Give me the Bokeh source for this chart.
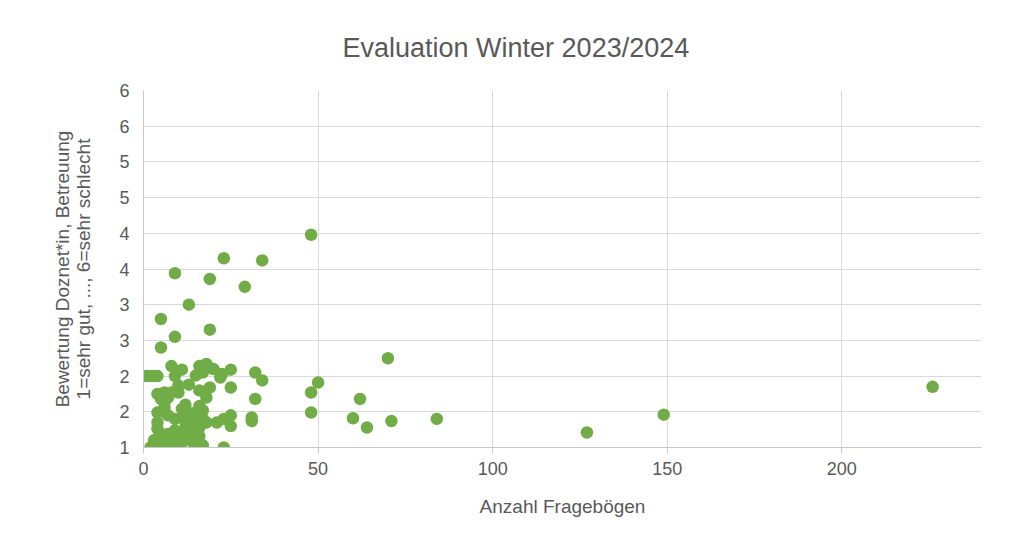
from bokeh.plotting import figure
from bokeh.models import Range1d, FixedTicker, Title
from bokeh.embed import file_html
from bokeh.resources import INLINE

# ---- data ----
anzahl = [48, 23, 34, 9, 19, 29, 13, 5, 19, 9, 5, 70, 50, 48, 48, 62, 60, 64, 71, 84,
          127, 149, 226, 23, 32, 34, 32, 31, 31, 25, 25, 25, 25, 23, 21, 22.5, 22, 20, 18, 16,
          15, 17, 11, 8, 9, 1, 2, 3, 4, 13, 10, 16, 19, 18, 4, 6, 8, 10, 6, 6,
          4, 11, 17, 15, 13, 11.5, 4, 4, 5, 7, 9, 10, 11, 11.5, 2, 3, 4, 5, 6, 7,
          8, 9, 10, 15, 17, 16, 12, 13, 14, 15, 16, 17, 18, 14, 12, 13, 15, 14, 16, 12,
          7, 5, 8, 6, 12.5, 14, 16, 3, 7, 9]
bewertung = [3.98, 3.65, 3.62, 3.44, 3.36, 3.25, 3.00, 2.80, 2.65, 2.55, 2.40, 2.25, 1.91, 1.77, 1.49, 1.68, 1.41, 1.28, 1.37, 1.40,
             1.21, 1.46, 1.85, 1.00, 2.05, 1.94, 1.68, 1.42, 1.37, 1.84, 2.09, 1.30, 1.45, 1.40, 1.35, 2.03, 1.98, 2.10, 2.17, 2.14,
             2.01, 2.05, 2.09, 2.14, 2.00, 2.00, 2.00, 2.00, 2.00, 1.88, 1.87, 1.80, 1.84, 1.70, 1.75, 1.77, 1.77, 1.77, 1.63, 1.56,
             1.49, 1.54, 1.52, 1.45, 1.42, 1.45, 1.35, 1.26, 1.19, 1.19, 1.24, 1.12, 1.07, 1.17, 1.00, 1.00, 1.00, 1.00, 1.00, 1.00,
             1.00, 1.00, 1.00, 1.00, 1.03, 1.07, 1.35, 1.30, 1.38, 1.33, 1.28, 1.40, 1.35, 1.22, 1.27, 1.20, 1.22, 1.48, 1.58, 1.60,
             1.70, 1.68, 1.10, 1.12, 1.12, 1.08, 1.16, 1.10, 1.45, 1.40]

x_ticks = [0, 50, 100, 150, 200]
y_ticks = [1, 1.5, 2, 2.5, 3, 3.5, 4, 4.5, 5, 5.5, 6]
y_tick_labels = ["1", "2", "2", "3", "3", "4", "4", "5", "5", "6", "6"]

title_text = "Evaluation Winter 2023/2024"
x_label = "Anzahl Fragebögen"
y_label = "Bewertung Doznet*in, Betreuung\n1=sehr gut, ..., 6=sehr schlecht"

FONT = "Liberation Sans"
TXT = "#595959"
GRID = "#d9d9d9"
AXIS = "#c8c8c8"
GREEN = "#70ad47"

p = figure(width=1000, height=526, output_backend="svg", toolbar_location=None,
           x_range=Range1d(0, 240), y_range=Range1d(1, 6),
           min_border_left=143, min_border_right=19, min_border_top=90, min_border_bottom=79)
p.outline_line_color = None
p.background_fill_color = "white"
p.border_fill_color = "white"

p.scatter(anzahl, bewertung, size=12.5, fill_color=GREEN, line_color=GREEN, line_width=0)

t = Title(text=title_text, align="left", offset=199, text_font=FONT, text_font_size="27px",
          text_font_style="normal", text_color=TXT, standoff=56)
p.add_layout(t, "above")

xa = p.xaxis[0]
xa.ticker = FixedTicker(ticks=x_ticks)
xa.axis_label = x_label
ya = p.yaxis[0]
ya.ticker = FixedTicker(ticks=y_ticks)
ya.major_label_overrides = {float(v): s for v, s in zip(y_ticks, y_tick_labels)}
ya.axis_label = y_label

for ax in (xa, ya):
    ax.axis_line_color = AXIS
    ax.axis_line_width = 1
    ax.minor_tick_line_color = None
    ax.major_label_text_font = FONT
    ax.major_label_text_font_size = "18px"
    ax.major_label_text_color = TXT
    ax.axis_label_text_font = FONT
    ax.axis_label_text_font_size = "19px"
    ax.axis_label_text_font_style = "normal"
    ax.axis_label_text_color = TXT

xa.major_tick_line_color = AXIS
xa.major_tick_in = 0
xa.major_tick_out = 6
xa.major_label_standoff = 8
xa.axis_label_standoff = 18

ya.major_tick_line_color = None
ya.major_tick_in = 0
ya.major_tick_out = 0
ya.major_label_standoff = 14
ya.axis_label_standoff = 22
ya.axis_label_text_line_height = 1.0

p.xgrid.grid_line_color = GRID
p.ygrid.grid_line_color = GRID
p.xgrid.ticker = FixedTicker(ticks=x_ticks)
p.ygrid.ticker = FixedTicker(ticks=y_ticks)

open("out.html", "w").write(file_html(p, INLINE))
